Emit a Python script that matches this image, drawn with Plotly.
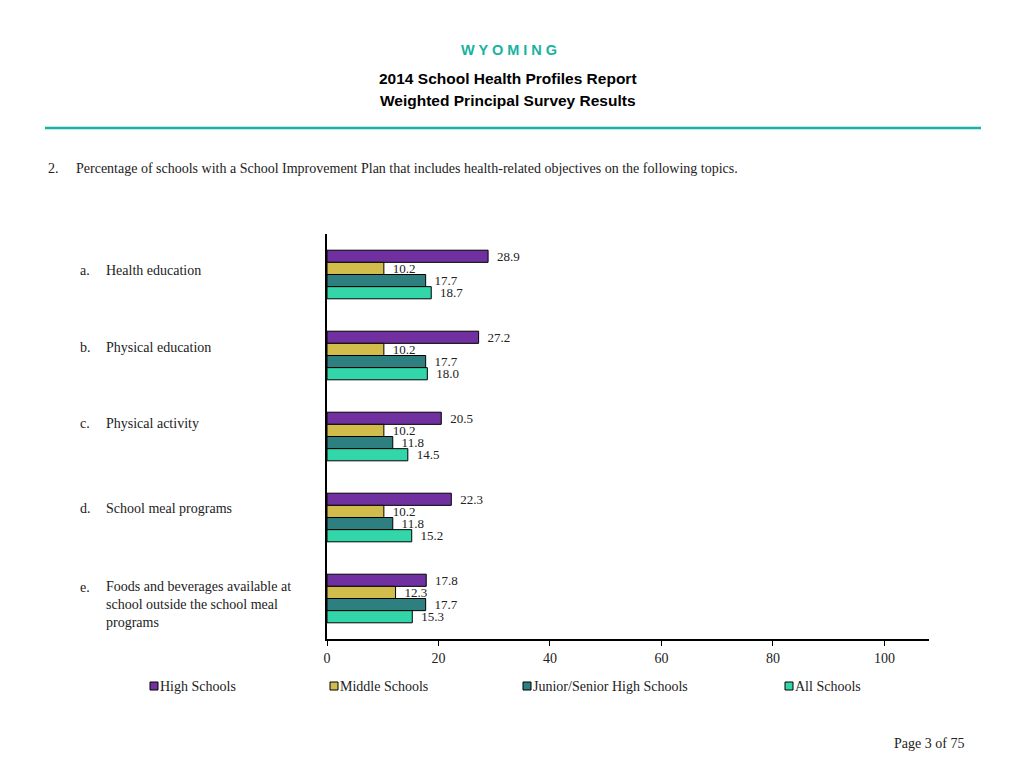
import plotly.graph_objects as go

categories = ["a", "b", "c", "d", "e"]
category_labels = [
    "Health education",
    "Physical education",
    "Physical activity",
    "School meal programs",
    "Foods and beverages available at<br>school outside the school meal<br>programs",
]
series_names = ["High Schools", "Middle Schools", "Junior/Senior High Schools", "All Schools"]
high = [28.9, 27.2, 20.5, 22.3, 17.8]
middle = [10.2, 10.2, 10.2, 10.2, 12.3]
junior_senior = [17.7, 17.7, 11.8, 11.8, 17.7]
all_schools = [18.7, 18.0, 14.5, 15.2, 15.3]
colors = ["#7030A0", "#D2BC4C", "#2E7F7F", "#33D6A8"]
tick_vals = [0, 20, 40, 60, 80, 100]

W, H = 1024, 768
OFF = 8  # page body offset
L, R, T, B = 327, 929, 234, 639  # target page coordinates of the plot area
SERIF = "Liberation Serif, Times New Roman, serif"
SANS = "Liberation Sans, Arial, sans-serif"
TXT = "#222"


def px(x):
    return (x - L) / (R - L)


def py(y):
    return (B - y) / (B - T)


fig = go.Figure()
for name, vals, col in zip(series_names, [high, middle, junior_senior, all_schools], colors):
    fig.add_trace(go.Bar(
        y=categories, x=vals, name=name, orientation="h",
        marker=dict(color=col, line=dict(color="black", width=1)),
        text=["\u00a0\u2009" + f"{v:.1f}" for v in vals], textposition="outside",
        constraintext="none",
        textfont=dict(family=SERIF, size=13, color=TXT),
        cliponaxis=False, showlegend=False,
    ))

annotations = []
# category labels
shifts = [4, 8, 13, 9, -6]
letter_shifts = [4, 8, 13, 9, 11]
for c, lab, s, ls in zip(categories, category_labels, shifts, letter_shifts):
    annotations.append(dict(xref="paper", yref="y", x=px(78), y=c, yshift=ls,
                            text=c + ".", showarrow=False, xanchor="left", yanchor="middle",
                            font=dict(family=SERIF, size=14, color=TXT)))
    annotations.append(dict(xref="paper", yref="y", x=px(104), y=c, yshift=s,
                            text=lab, showarrow=False, xanchor="left", yanchor="middle", align="left",
                            font=dict(family=SERIF, size=14, color=TXT)))

# header
annotations += [
    dict(xref="paper", yref="paper", x=px(509), y=py(50), text="<b>W Y O M I N G</b>", showarrow=False,
         xanchor="center", yanchor="middle", font=dict(family=SANS, size=14.5, color="#16B3A0")),
    dict(xref="paper", yref="paper", x=px(508), y=py(78), text="<b>2014 School Health Profiles Report</b>",
         showarrow=False, xanchor="center", yanchor="middle", font=dict(family=SANS, size=15.5, color="black")),
    dict(xref="paper", yref="paper", x=px(508), y=py(100), text="<b>Weighted Principal Survey Results</b>",
         showarrow=False, xanchor="center", yanchor="middle", font=dict(family=SANS, size=15.5, color="black")),
    dict(xref="paper", yref="paper", x=px(46), y=py(168), text="2.", showarrow=False, xanchor="left",
         yanchor="middle", font=dict(family=SERIF, size=14, color=TXT)),
    dict(xref="paper", yref="paper", x=px(74), y=py(168),
         text="Percentage of schools with a School Improvement Plan that includes health-related objectives on the following topics.",
         showarrow=False, xanchor="left", yanchor="middle", font=dict(family=SERIF, size=14, color=TXT)),
    dict(xref="paper", yref="paper", x=px(966), y=py(743), text="Page 3 of 75", showarrow=False,
         xanchor="right", yanchor="middle", font=dict(family=SERIF, size=14, color=TXT)),
]

shapes = [
    dict(type="line", xref="paper", yref="paper", x0=px(45), x1=px(981), y0=py(128), y1=py(128),
         line=dict(color="#16B3A0", width=2.5)),
]

# legend
legend_x = [150, 330, 523, 785]
for name, col, lx in zip(series_names, colors, legend_x):
    shapes.append(dict(type="rect", xref="paper", yref="paper", x0=px(lx), x1=px(lx + 8),
                       y0=py(690), y1=py(682), fillcolor=col, line=dict(color="black", width=1)))
    annotations.append(dict(xref="paper", yref="paper", x=px(lx + 8), y=py(686), text=name,
                            showarrow=False, xanchor="left", yanchor="middle",
                            font=dict(family=SERIF, size=14, color=TXT)))

fig.update_layout(
    width=W, height=H,
    margin=dict(l=L - OFF, r=W - (R - OFF), t=T - OFF, b=H - (B - OFF), pad=0),
    paper_bgcolor="white", plot_bgcolor="white",
    barmode="group", bargap=0.4, bargroupgap=0,
    xaxis=dict(range=[0, 108], tickvals=tick_vals, showgrid=False, zeroline=False,
               showline=True, linecolor="black", linewidth=1.5, ticks="outside", ticklen=5,
               tickcolor="black", tickfont=dict(family=SERIF, size=14, color=TXT)),
    yaxis=dict(autorange="reversed", showticklabels=False, showgrid=False, zeroline=False,
               showline=True, linecolor="black", linewidth=1.5, ticks=""),
    annotations=annotations, shapes=shapes, showlegend=False,
)

fig.write_html("out.html")
